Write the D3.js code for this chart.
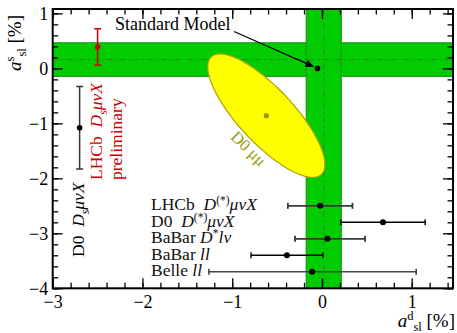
<!DOCTYPE html>
<html>
<head>
<meta charset="utf-8">
<script src="https://cdn.jsdelivr.net/npm/d3@7"></script>
<style>
html,body{margin:0;padding:0;background:#fff;}
svg{display:block;}
text{font-family:"Liberation Serif","DejaVu Serif",serif;}
</style>
</head>
<body>
<svg id="chart" width="457" height="333"></svg>
<script>
// ---------------- data ----------------
const xTickValues = [-3, -2, -1, 0, 1];
const xTickLabels = ["\u22123", "\u22122", "\u22121", "0", "1"];
const yTickValues = [-4, -3, -2, -1, 0, 1];
const yTickLabels = ["\u22124", "\u22123", "\u22122", "\u22121", "0", "1"];

// world averages (bands)
const avgD = [0.02, 0.195];     // a_sl^d centre, half-width
const avgS = [0.16, 0.305];     // a_sl^s centre, half-width

// Standard Model point
const smPoint = [-0.05, 0.0];

// D0 dimuon ellipse: centre x, centre y, sigma x, sigma y, correlation
const d0mumu = [-0.62, -0.86, 0.43, 0.74, -0.79];

// a_sl^s measurements (vertical error bars)
const vNames = ["LHCb  <i>D<sub>s</sub>μνX</i>", "D0  <i>D<sub>s</sub>μνX</i>"];
const vX = [-2.50, -2.70];
const vY = [0.39, -1.08];
const vErr = [0.33, 0.75];

// a_sl^d measurements (horizontal error bars)
const hNames = ["LHCb  <i>D</i><sup>(*)</sup><i>μνX</i>",
                "D0  <i>D</i><sup>(*)</sup><i>μνX</i>",
                "BaBar <i>D</i><sup>*</sup><i>lν</i>",
                "BaBar <i>ll</i>",
                "Belle <i>ll</i>"];
const hX = [-0.02, 0.68, 0.06, -0.39, -0.11];
const hErrLo = [0.36, 0.47, 0.36, 0.40, 1.15];
const hErrHi = [0.36, 0.47, 0.42, 0.40, 1.16];
const hY = [-2.5, -2.8, -3.1, -3.4, -3.7];

// ---------------- layout ----------------
const L = 52.7, R = 453, T = 9, B = 288.3;
const FS = 17.5;
const svg = d3.select("#chart");
const x = d3.scaleLinear().domain([-3, 1.46]).range([L, R]);
const y = d3.scaleLinear().domain([-4, 1.08]).range([B, T]);

svg.append("defs").append("clipPath").attr("id", "clip")
  .append("rect").attr("x", L).attr("y", T).attr("width", R - L).attr("height", B - T);
svg.select("defs").append("marker").attr("id", "arrow")
  .attr("viewBox", "0 0 10 10").attr("refX", 10).attr("refY", 5)
  .attr("markerWidth", 10).attr("markerHeight", 8).attr("markerUnits", "userSpaceOnUse")
  .attr("orient", "auto")
  .append("path").attr("d", "M0,0L10,5L0,10Z").attr("fill", "#000");

const plot = svg.append("g").attr("clip-path", "url(#clip)");

// rich text helper
function rich(sel, markup, fs) {
  sel.attr("xml:space", "preserve").style("white-space", "pre");
  const re = /<(\/?)(i|sup|sub)>|([^<]+)/g;
  let m, italic = false, mode = null, cur = 0;
  while ((m = re.exec(markup)) !== null) {
    if (m[2]) {
      const closing = m[1] === "/";
      if (m[2] === "i") italic = !closing;
      else mode = closing ? null : m[2];
    } else {
      const target = mode === "sup" ? -0.36 * fs : mode === "sub" ? 0.26 * fs : 0;
      sel.append("tspan")
        .attr("dy", target - cur)
        .attr("font-size", mode ? fs * 0.66 : fs)
        .attr("font-style", italic ? "italic" : "normal")
        .text(m[3]);
      cur = target;
    }
  }
}

// bands
const green = "#00cc00", greenEdge = "#1a9a1a";
plot.append("rect")
  .attr("x", L - 5).attr("width", R - L + 10)
  .attr("y", y(avgS[0] + avgS[1])).attr("height", y(avgS[0] - avgS[1]) - y(avgS[0] + avgS[1]))
  .attr("fill", green).attr("stroke", greenEdge).attr("stroke-width", 1.2);
plot.append("rect")
  .attr("y", T - 5).attr("height", B - T + 10)
  .attr("x", x(avgD[0] - avgD[1])).attr("width", x(avgD[0] + avgD[1]) - x(avgD[0] - avgD[1]))
  .attr("fill", green).attr("stroke", greenEdge).attr("stroke-width", 1.2);
plot.append("line")
  .attr("x1", L).attr("x2", R).attr("y1", y(avgS[0])).attr("y2", y(avgS[0]))
  .attr("stroke", "#3d6b3d").attr("stroke-width", 0.8).attr("stroke-dasharray", "6,3,1.5,3");
plot.append("line")
  .attr("y1", T).attr("y2", B).attr("x1", x(avgD[0])).attr("x2", x(avgD[0]))
  .attr("stroke", "#3d6b3d").attr("stroke-width", 0.8).attr("stroke-dasharray", "6,3,1.5,3");

// ellipse (Δχ² = 2.3)
const k = Math.sqrt(2.3);
const [ecx, ecy, esx, esy, erho] = d0mumu;
const ellPts = d3.range(0, 361, 3).map(a => {
  const t = a * Math.PI / 180;
  return [x(ecx + k * esx * Math.cos(t)),
          y(ecy + k * esy * (erho * Math.cos(t) + Math.sqrt(1 - erho * erho) * Math.sin(t)))];
});
plot.append("path").attr("d", d3.line()(ellPts) + "Z")
  .attr("fill", "#ffff00").attr("stroke", "#b0a000").attr("stroke-width", 1.2);
plot.append("circle").attr("cx", x(ecx)).attr("cy", y(ecy)).attr("r", 2.6).attr("fill", "#999900");
svg.append("text")
  .attr("transform", `translate(${x(-0.86)},${y(-1.53)}) rotate(44)`)
  .attr("text-anchor", "middle").attr("fill", "#999900").attr("font-size", 16.5)
  .text("D0 μμ");

// vertical error bars (a_sl^s)
const vColors = ["#cc0000", "#333333"];
vX.forEach((vx, i) => {
  const g = svg.append("g").attr("stroke", vColors[i]).attr("stroke-width", 1.5);
  g.append("line").attr("x1", x(vx)).attr("x2", x(vx)).attr("y1", y(vY[i] + vErr[i])).attr("y2", y(vY[i] - vErr[i]));
  [vY[i] + vErr[i], vY[i] - vErr[i]].forEach(e =>
    g.append("line").attr("x1", x(vx) - 3.5).attr("x2", x(vx) + 3.5).attr("y1", y(e)).attr("y2", y(e)));
  svg.append("circle").attr("cx", x(vx)).attr("cy", y(vY[i])).attr("r", 2.8).attr("fill", i === 0 ? "#cc0000" : "#000");
});
// rotated labels
const lhcbLab = svg.append("text").attr("transform", `translate(${x(vX[0]) + 4.5},180) rotate(-90)`)
  .attr("fill", "#cc0000");
rich(lhcbLab, vNames[0], FS);
svg.append("text").attr("transform", `translate(${x(vX[0]) + 24},180) rotate(-90)`)
  .attr("fill", "#cc0000").attr("font-size", FS).text("preliminary");
const d0Lab = svg.append("text").attr("transform", `translate(${x(vX[1]) + 4.5},257) rotate(-90)`)
  .attr("fill", "#000");
rich(d0Lab, vNames[1], FS);

// horizontal error bars (a_sl^d)
const hColors = ["#3a3a3a", "#000", "#3a3a3a", "#000", "#444"];
const hWidths = [1.8, 1.4, 1.8, 1.4, 1.6];
hX.forEach((hx, i) => {
  const g = svg.append("g").attr("stroke", hColors[i]).attr("stroke-width", hWidths[i]);
  const yy = y(hY[i]);
  g.append("line").attr("x1", x(hx - hErrLo[i])).attr("x2", x(hx + hErrHi[i])).attr("y1", yy).attr("y2", yy);
  [hx - hErrLo[i], hx + hErrHi[i]].forEach(e =>
    g.append("line").attr("x1", x(e)).attr("x2", x(e)).attr("y1", yy - 3).attr("y2", yy + 3));
  svg.append("circle").attr("cx", x(hx)).attr("cy", yy).attr("r", 3).attr("fill", "#000");
  const t = svg.append("text").attr("x", 151).attr("y", yy + 4.5).attr("fill", "#111");
  rich(t, hNames[i], FS);
});

// Standard Model
svg.append("circle").attr("cx", x(smPoint[0])).attr("cy", y(smPoint[1])).attr("r", 2.8).attr("fill", "#000");
svg.append("text").attr("x", 115).attr("y", 30).attr("font-size", 18).attr("fill", "#000").text("Standard Model");
{
  const x0 = 234, y0 = 31.5, x1 = x(smPoint[0]), y1 = y(smPoint[1]);
  const len = Math.hypot(x1 - x0, y1 - y0), sh = 4.2;
  svg.append("line").attr("x1", x0).attr("y1", y0)
    .attr("x2", x1 - (x1 - x0) / len * sh).attr("y2", y1 - (y1 - y0) / len * sh)
    .attr("stroke", "#000").attr("stroke-width", 1.3).attr("marker-end", "url(#arrow)");
}

// axes
function styleAxis(g) {
  g.select(".domain").remove();
  g.selectAll(".tick line").attr("stroke", "#000").attr("stroke-width", 1.3);
  g.selectAll(".tick text").attr("font-size", 18).attr("font-family", "Liberation Serif, serif").attr("fill", "#000");
}
const xMinor = d3.range(-15, 8).map(i => i / 5);
const yMinor = d3.range(-20, 6).map(i => i / 5);
const axes = [
  [d3.axisBottom(x).tickValues(xTickValues).tickFormat((d, i) => xTickLabels[i]).tickSize(-10).tickPadding(7), `translate(0,${B})`],
  [d3.axisBottom(x).tickValues(xMinor).tickFormat("").tickSize(-5.5), `translate(0,${B})`],
  [d3.axisTop(x).tickValues(xTickValues).tickFormat("").tickSize(-10), `translate(0,${T})`],
  [d3.axisTop(x).tickValues(xMinor).tickFormat("").tickSize(-5.5), `translate(0,${T})`],
  [d3.axisLeft(y).tickValues(yTickValues).tickFormat((d, i) => yTickLabels[i]).tickSize(-10).tickPadding(4.5), `translate(${L},0)`],
  [d3.axisLeft(y).tickValues(yMinor).tickFormat("").tickSize(-5.5), `translate(${L},0)`],
  [d3.axisRight(y).tickValues(yTickValues).tickFormat("").tickSize(-10), `translate(${R},0)`],
  [d3.axisRight(y).tickValues(yMinor).tickFormat("").tickSize(-5.5), `translate(${R},0)`]
];
axes.forEach(([ax, tr]) => svg.append("g").attr("transform", tr).call(ax).call(styleAxis));

svg.append("rect").attr("x", L).attr("y", T).attr("width", R - L).attr("height", B - T)
  .attr("fill", "none").attr("stroke", "#000").attr("stroke-width", 2);

// axis titles
const yt = svg.append("text").attr("transform", "translate(21,71) rotate(-90)").attr("fill", "#000");
rich(yt, "<i>a</i><sup>s</sup><sub>sl</sub> [%]", 19);
const xt = svg.append("text").attr("x", 455).attr("y", 326.5).attr("text-anchor", "end").attr("fill", "#000");
rich(xt, "<i>a</i><sup>d</sup><sub>sl</sub> [%]", 19);
</script>
</body>
</html>
